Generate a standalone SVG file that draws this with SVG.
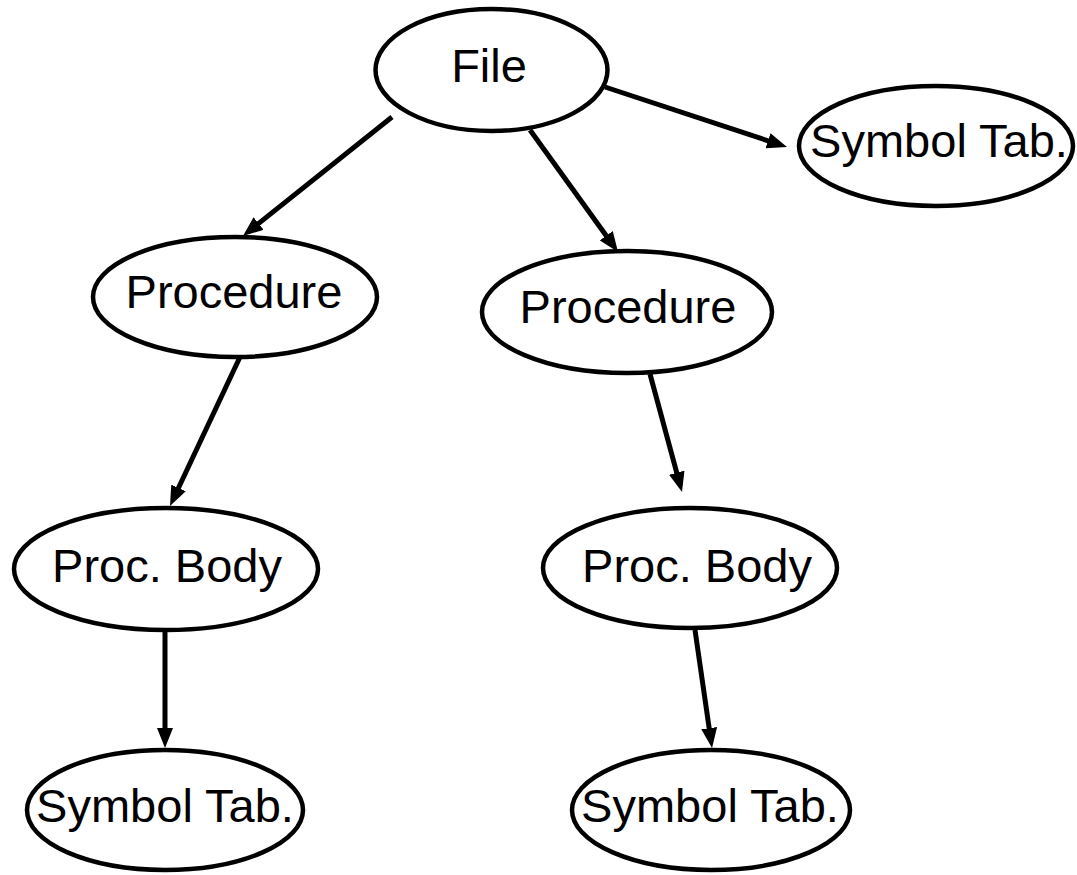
<svg xmlns="http://www.w3.org/2000/svg" width="1077" height="875" viewBox="0 0 1077 875">
  <style>
    .node ellipse { fill: #ffffff; stroke: #000000; stroke-width: 4.5; }
    .node text { font-family: "Liberation Sans", Arial, sans-serif; font-size: 47px; fill: #000000; text-anchor: middle; }
    .edge { stroke: #000000; stroke-width: 5; fill: none; marker-end: url(#arrow); }
  </style>
  <defs>
    <marker id="arrow" markerUnits="userSpaceOnUse" markerWidth="20" markerHeight="16" refX="12" refY="8" orient="auto">
      <path d="M0,0 L20,8 L0,16 z" fill="#000000"/>
    </marker>
  </defs>
  <rect width="1077" height="875" fill="#ffffff"/>

  <!-- tree edges -->
  <g id="connectors">
    <line class="edge" x1="392" y1="117" x2="249.2" y2="231"/>
    <line class="edge" x1="530" y1="130" x2="613.3" y2="245.5"/>
    <line class="edge" x1="605" y1="87" x2="779.4" y2="144.5"/>
    <line class="edge" x1="240" y1="357" x2="173.4" y2="498.8"/>
    <line class="edge" x1="650" y1="374" x2="679.9" y2="484.3"/>
    <line class="edge" x1="165" y1="630" x2="165" y2="740"/>
    <line class="edge" x1="695" y1="630" x2="710.9" y2="740.1"/>
  </g>

  <g id="file" class="node">
    <ellipse cx="491.5" cy="70" rx="116" ry="61"/>
    <text x="489" y="82">File</text>
  </g>
  <g id="symtab-file" class="node">
    <ellipse cx="936" cy="146" rx="137" ry="60"/>
    <text x="939" y="157">Symbol Tab.</text>
  </g>
  <g id="procedure-1" class="node">
    <ellipse cx="235" cy="297" rx="142" ry="60"/>
    <text x="234" y="308">Procedure</text>
  </g>
  <g id="procedure-2" class="node">
    <ellipse cx="627" cy="312" rx="145" ry="61"/>
    <text x="628" y="323">Procedure</text>
  </g>
  <g id="body-1" class="node">
    <ellipse cx="166" cy="569" rx="152" ry="61"/>
    <text x="167" y="582">Proc. Body</text>
  </g>
  <g id="body-2" class="node">
    <ellipse cx="690" cy="568" rx="147" ry="60"/>
    <text x="697" y="582">Proc. Body</text>
  </g>
  <g id="symtab-1" class="node">
    <ellipse cx="165" cy="810" rx="138" ry="60"/>
    <text x="165" y="822">Symbol Tab.</text>
  </g>
  <g id="symtab-2" class="node">
    <ellipse cx="711" cy="810" rx="139" ry="60"/>
    <text x="710" y="822">Symbol Tab.</text>
  </g>
</svg>
